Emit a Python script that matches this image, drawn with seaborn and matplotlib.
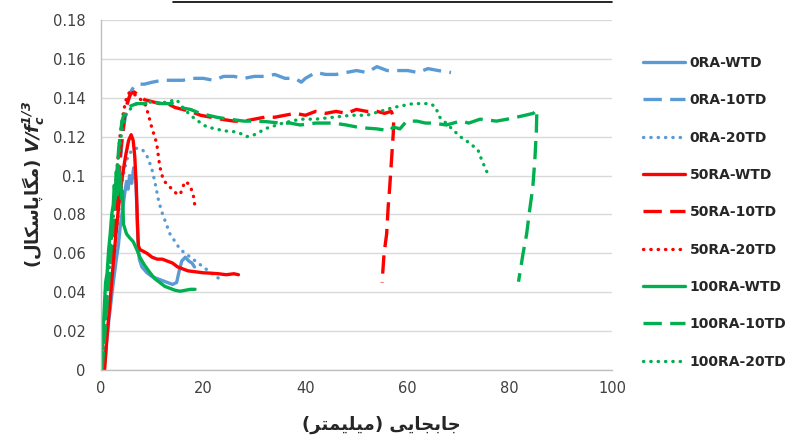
import matplotlib
matplotlib.use("Agg")
import matplotlib.pyplot as plt
from matplotlib.lines import Line2D
import seaborn as sns
import pandas as pd

# ---- measured curves: displacement (mm) vs normalised shear V/fc^(1/3) ----
ra0_wtd_x = [0.6, 1.0, 1.5, 2.0, 2.5, 3.0, 3.4, 3.8, 4.2, 4.6, 5.0, 5.3, 5.6, 6.0, 6.4, 6.8,
             7.0, 7.2, 7.5, 8.0, 9.0, 10.0, 11.0, 12.0, 13.0, 14.0, 14.8, 15.3, 15.8, 16.5,
             17.2, 17.8, 18.3]
ra0_wtd_y = [0.0, 0.012, 0.025, 0.036, 0.047, 0.057, 0.064, 0.075, 0.082, 0.090, 0.097, 0.093,
             0.100, 0.096, 0.104, 0.098, 0.085, 0.068, 0.057, 0.053, 0.050, 0.048, 0.047, 0.046,
             0.045, 0.044, 0.045, 0.051, 0.056, 0.058, 0.056, 0.055, 0.053]

ra0_10td_x = [0.4, 1.0, 1.8, 2.6, 3.4, 4.2, 5.0, 5.8, 6.5, 7.2, 8.5, 10, 12, 14, 16, 18, 20,
              22, 24, 26, 28, 30, 32, 34, 36, 38, 39.2, 40, 42, 44, 46, 48, 50, 52, 54, 56,
              58, 60, 62, 64, 66, 68.5]
ra0_10td_y = [0.0, 0.020, 0.045, 0.070, 0.095, 0.120, 0.135, 0.143, 0.146, 0.147, 0.147,
              0.148, 0.149, 0.149, 0.149, 0.150, 0.150, 0.149, 0.151, 0.151, 0.150, 0.151,
              0.151, 0.152, 0.150, 0.150, 0.148, 0.150, 0.153, 0.152, 0.152, 0.153, 0.154,
              0.153, 0.156, 0.154, 0.154, 0.154, 0.153, 0.155, 0.154, 0.153]

ra0_20td_x = [0.5, 1.2, 2.0, 2.8, 3.5, 4.2, 5.0, 5.8, 6.6, 7.4, 8.2, 9.0, 9.9, 10.6, 11.2,
              11.8, 12.5, 13.5, 14.5, 15.5, 16.5, 17.5, 18.5, 19.5, 20.5, 21.5, 22.5, 23.8]
ra0_20td_y = [0.0, 0.020, 0.042, 0.065, 0.082, 0.098, 0.108, 0.112, 0.114, 0.114, 0.113,
              0.110, 0.104, 0.096, 0.088, 0.082, 0.077, 0.070, 0.066, 0.062, 0.060, 0.058,
              0.056, 0.054, 0.052, 0.050, 0.048, 0.046]

ra50_wtd_x = [0.7, 1.2, 1.8, 2.4, 3.0, 3.6, 4.2, 4.8, 5.4, 5.9, 6.3, 6.6, 6.9, 7.1, 7.3, 7.6,
              8.3, 9.0, 10.0, 11.0, 12.0, 13.0, 14.0, 15.0, 16.0, 17.0, 18.5, 20.0, 21.5,
              23.0, 24.5, 26.0, 26.9]
ra50_wtd_y = [0.0, 0.018, 0.036, 0.055, 0.072, 0.088, 0.100, 0.110, 0.118, 0.121, 0.118,
              0.110, 0.095, 0.078, 0.064, 0.062, 0.061, 0.060, 0.058, 0.057, 0.057, 0.056,
              0.055, 0.053, 0.052, 0.051, 0.0505, 0.050, 0.0498, 0.0495, 0.049, 0.0495, 0.049]

ra50_10td_x = [0.3, 1.0, 1.8, 2.6, 3.3, 4.0, 4.6, 5.2, 5.8, 6.5, 7.5, 8.5, 10, 11.5, 13,
               14.5, 16, 17.5, 19.5, 21.5, 23.5, 26, 28, 30, 32, 34, 36, 38, 40, 42, 44,
               46, 48, 50, 52, 54, 55.5, 56.8, 57.3, 57.2, 56.9, 56.5, 56.2, 55.9, 55.4, 55.0]
ra50_10td_y = [0.0, 0.025, 0.050, 0.075, 0.097, 0.117, 0.130, 0.138, 0.142, 0.143, 0.141,
               0.139, 0.138, 0.137, 0.137, 0.135, 0.134, 0.133, 0.131, 0.130, 0.129, 0.128,
               0.128, 0.129, 0.130, 0.130, 0.131, 0.132, 0.131, 0.133, 0.132, 0.133, 0.132,
               0.134, 0.133, 0.133, 0.132, 0.133, 0.130, 0.122, 0.110, 0.094, 0.084, 0.070,
               0.060, 0.045]

ra50_20td_x = [0.2, 0.8, 1.5, 2.2, 3.0, 3.7, 4.4, 5.0, 5.6, 6.3, 7.0, 7.8, 8.6, 9.2, 9.9,
               10.5, 10.9, 11.5, 12.2, 13.1, 14.1, 15.0, 15.6, 16.4, 17.0, 17.6, 18.1, 18.4]
ra50_20td_y = [0.0, 0.025, 0.050, 0.075, 0.100, 0.120, 0.133, 0.140, 0.143, 0.142, 0.141,
               0.139, 0.137, 0.132, 0.125, 0.120, 0.1166, 0.1046, 0.0977, 0.095, 0.0926,
               0.090, 0.091, 0.0969, 0.096, 0.0936, 0.0892, 0.084]

ra100_wtd_x = [0.0, 0.3, 0.6, 0.9, 1.2, 1.5, 1.8, 2.1, 2.4, 2.6, 2.8, 3.0, 3.2, 3.4, 3.6,
               3.8, 4.0, 4.2, 4.4, 5.0, 5.6, 6.3, 7.0, 7.6, 8.5, 9.6, 10.5, 11.5, 12.5,
               13.5, 14.5, 15.5, 16.5, 17.5, 18.4]
ra100_wtd_y = [0.0, 0.015, 0.030, 0.045, 0.050, 0.062, 0.070, 0.080, 0.085, 0.095, 0.088,
               0.102, 0.090, 0.105, 0.095, 0.100, 0.088, 0.092, 0.075, 0.070, 0.068, 0.066,
               0.062, 0.058, 0.054, 0.050, 0.047, 0.045, 0.043, 0.042, 0.041, 0.0405, 0.041,
               0.0415, 0.0415]

ra100_10td_x = [0.2, 0.8, 1.5, 2.2, 2.9, 3.5, 4.1, 4.7, 5.3, 6.0, 7.0, 8.5, 10, 12, 14,
                15.5, 17.5, 19.4, 21, 22.6, 25, 28, 30, 32.4, 35, 37, 39, 42, 45.5, 48, 50,
                52, 54, 56.5, 57.2, 58.5, 59.8, 61.8, 63.5, 65, 67.6, 70.3, 72, 74.2, 77.4,
                79.5, 81.3, 83, 84.6, 85.3, 85.2, 84.9, 84.5, 83.8, 83.3, 82.6, 81.7]
ra100_10td_y = [0.0, 0.020, 0.045, 0.070, 0.095, 0.115, 0.128, 0.133, 0.135, 0.136, 0.137,
                0.137, 0.138, 0.137, 0.137, 0.135, 0.134, 0.132, 0.131, 0.130, 0.129, 0.128,
                0.128, 0.1277, 0.127, 0.127, 0.126, 0.127, 0.127, 0.126, 0.125, 0.1244,
                0.124, 0.123, 0.125, 0.124, 0.128, 0.128, 0.127, 0.127, 0.126, 0.128, 0.127,
                0.129, 0.128, 0.129, 0.130, 0.131, 0.132, 0.134, 0.123, 0.108, 0.094,
                0.0806, 0.070, 0.060, 0.0454]

ra100_20td_x = [0.1, 0.7, 1.4, 2.1, 2.8, 3.5, 4.2, 5.0, 6.0, 7.0, 8.5, 10, 11.5, 13, 14.8,
                16, 17.5, 19, 20.7, 22.5, 24, 25.9, 27, 28.5, 30, 32.4, 35.6, 39, 42, 45.5,
                49, 52, 54.6, 57.2, 59.1, 61.1, 63, 64.4, 65.4, 66.3, 68.3, 70.3, 72.2, 73.8,
                74.5, 75.5]
ra100_20td_y = [0.0, 0.020, 0.045, 0.070, 0.092, 0.112, 0.125, 0.132, 0.135, 0.137, 0.137,
                0.138, 0.137, 0.138, 0.139, 0.135, 0.131, 0.128, 0.125, 0.124, 0.123, 0.1226,
                0.122, 0.120, 0.121, 0.1243, 0.127, 0.129, 0.129, 0.130, 0.131, 0.131, 0.133,
                0.135, 0.136, 0.137, 0.137, 0.137, 0.1355, 0.130, 0.125, 0.120, 0.1166,
                0.113, 0.108, 0.102]

series_names = ["0RA-WTD", "0RA-10TD", "0RA-20TD",
                "50RA-WTD", "50RA-10TD", "50RA-20TD",
                "100RA-WTD", "100RA-10TD", "100RA-20TD"]
series_x = [ra0_wtd_x, ra0_10td_x, ra0_20td_x,
            ra50_wtd_x, ra50_10td_x, ra50_20td_x,
            ra100_wtd_x, ra100_10td_x, ra100_20td_x]
series_y = [ra0_wtd_y, ra0_10td_y, ra0_20td_y,
            ra50_wtd_y, ra50_10td_y, ra50_20td_y,
            ra100_wtd_y, ra100_10td_y, ra100_20td_y]

x_ticks = [0, 20, 40, 60, 80, 100]
y_ticks = [0, 0.02, 0.04, 0.06, 0.08, 0.1, 0.12, 0.14, 0.16, 0.18]
y_tick_labels = ["0", "0.02", "0.04", "0.06", "0.08", "0.1", "0.12", "0.14", "0.16", "0.18"]

# ---- minimal Persian shaping (presentation forms, visual order) ----
FORMS = {  # isolated, final, initial, medial
    "ا": ("\uFE8D", "\uFE8E", None, None),
    "ب": ("\uFE8F", "\uFE90", "\uFE91", "\uFE92"),
    "پ": ("\uFB56", "\uFB57", "\uFB58", "\uFB59"),
    "ت": ("\uFE95", "\uFE96", "\uFE97", "\uFE98"),
    "ج": ("\uFE9D", "\uFE9E", "\uFE9F", "\uFEA0"),
    "ر": ("\uFEAD", "\uFEAE", None, None),
    "س": ("\uFEB1", "\uFEB2", "\uFEB3", "\uFEB4"),
    "ک": ("\uFB8E", "\uFB8F", "\uFB90", "\uFB91"),
    "گ": ("\uFB92", "\uFB93", "\uFB94", "\uFB95"),
    "ل": ("\uFEDD", "\uFEDE", "\uFEDF", "\uFEE0"),
    "م": ("\uFEE1", "\uFEE2", "\uFEE3", "\uFEE4"),
    "ی": ("\uFBFC", "\uFBFD", "\uFBFE", "\uFBFF"),
}


def shape_word(word):
    glyphs = []
    for i, ch in enumerate(word):
        prev = word[i - 1] if i > 0 else None
        nxt = word[i + 1] if i + 1 < len(word) else None
        iso, fin, ini, med = FORMS[ch]
        join_prev = prev in FORMS and FORMS[prev][2] is not None
        join_next = nxt in FORMS and ini is not None
        if join_prev and join_next:
            g = med
        elif join_prev:
            g = fin
        elif join_next:
            g = ini
        else:
            g = iso
        glyphs.append(g)
    return "".join(reversed(glyphs))


x_label_text = "(" + shape_word("میلیمتر") + ") " + shape_word("جابجایی")
y_label_text = "(" + shape_word("مگاپاسکال") + ") " + r"$\mathbfit{V/f_c^{1/3}}$"

# ---- styling ----
sns.set_style("white")
plt.rcParams["font.family"] = ["DejaVu Sans"]
plt.rcParams["mathtext.fontset"] = "dejavusans"

blue, red, green = "#5B9BD5", "#FF0000", "#00B050"
colors = [blue, blue, blue, red, red, red, green, green, green]
dash = (0, (5.5, 2.5))
dot = (0, (0.1, 2.1))
styles = ["-", dash, dot] * 3

fig = plt.figure(figsize=(7.89, 4.42), dpi=100)
ax = fig.add_axes([101 / 789, 1 - 370 / 442, 511 / 789, 350 / 442])

for name, xs, ys, c, ls in zip(series_names, series_x, series_y, colors, styles):
    df = pd.DataFrame({"disp": xs, "shear": ys})
    sns.lineplot(data=df, x="disp", y="shear", sort=False, estimator=None, ax=ax,
                 color=c, linestyle=ls, linewidth=2.4, label=name,
                 dash_capstyle="round" if ls is dot else "butt")

ax.set_xlim(0, 100)
ax.set_ylim(0, 0.18)
ax.set_xticks(x_ticks)
ax.set_yticks(y_ticks)
ax.set_yticklabels(y_tick_labels)
ax.set_xlabel("")
ax.set_ylabel("")
ax.grid(axis="y", color="#D9D9D9", linewidth=1.0)
ax.grid(axis="x", visible=False)
ax.set_axisbelow(True)
for side in ["top", "right"]:
    ax.spines[side].set_visible(False)
for side in ["left", "bottom"]:
    ax.spines[side].set_color("#BFBFBF")
    ax.spines[side].set_linewidth(1.0)
ax.tick_params(axis="both", length=0, labelsize=10.5, labelcolor="#404040")
ax.tick_params(axis="y", pad=11)
ax.tick_params(axis="x", pad=8)

handles, labels = ax.get_legend_handles_labels()
ax.get_legend().remove()
fig.legend(handles, labels, loc="upper left", bbox_to_anchor=(643 / 789, 1 - 56 / 442),
           frameon=False, borderpad=0, borderaxespad=0, handlelength=3.0,
           handletextpad=0.35, labelspacing=1.68, prop={"weight": "bold", "size": 10})

fig.text(381 / 789, 1 - 425 / 442, x_label_text, ha="center", va="center",
         fontsize=13, fontweight="bold", color="#262626")
fig.text(33 / 789, 1 - 184 / 442, y_label_text, ha="center", va="center", rotation=90,
         fontsize=13, fontweight="bold", color="#262626")

fig.add_artist(Line2D([173 / 789, 612 / 789], [1 - 2 / 442, 1 - 2 / 442],
                      color="black", linewidth=1.2))

fig.savefig("out.png", dpi=100)
